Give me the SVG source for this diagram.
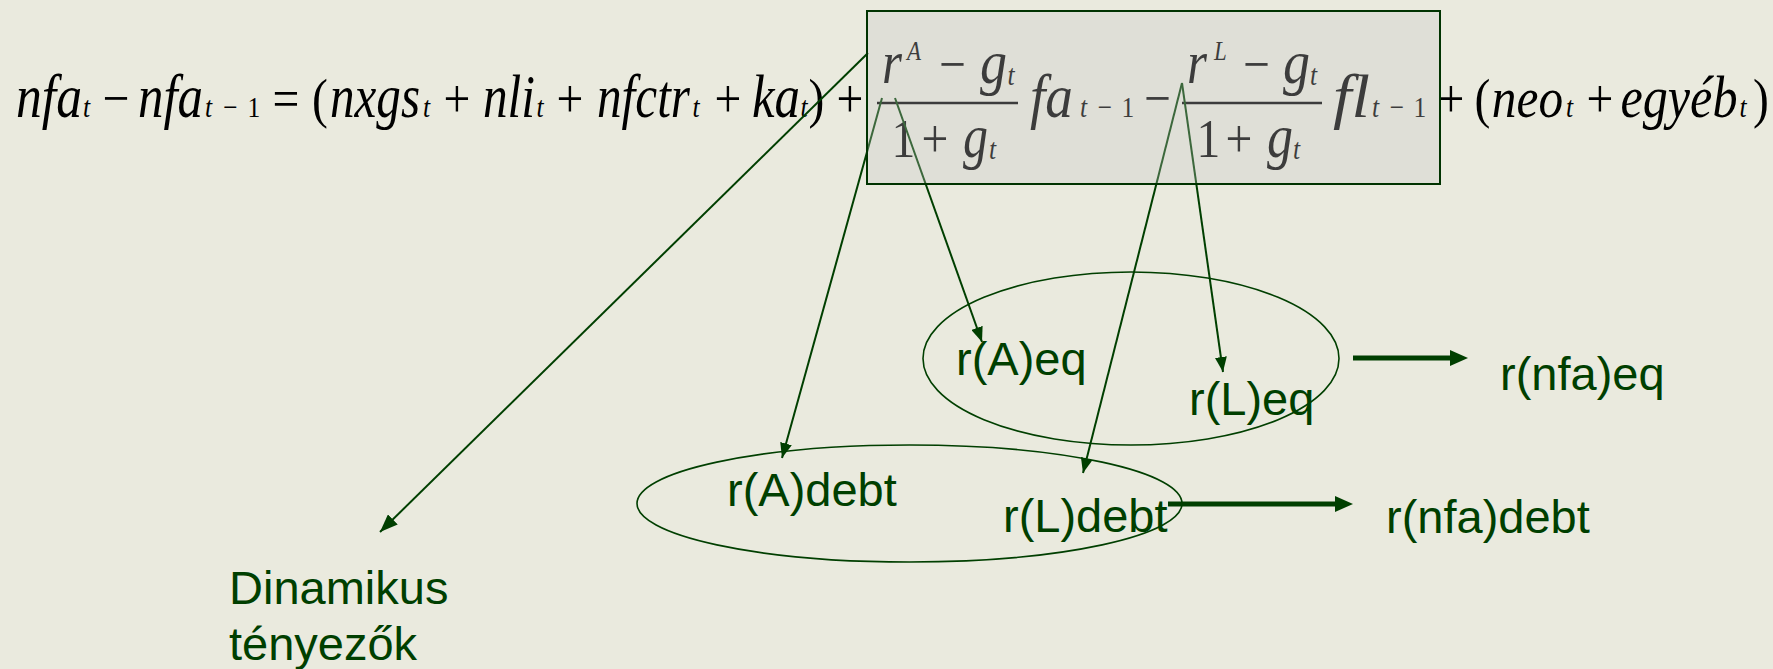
<svg xmlns="http://www.w3.org/2000/svg" width="1773" height="669" viewBox="0 0 1773 669">
<defs>
<style>
.eq{font-family:"Liberation Serif","Times New Roman",serif;font-style:italic;font-size:61px;fill:#000;text-anchor:middle}
.op{font-style:normal;font-size:56px}
.sub{font-size:30px}
.sup{font-size:27px}
.lbl{font-family:"Liberation Sans",Arial,sans-serif;font-size:47px;fill:#003f00}
.ln{stroke:#003f00;stroke-width:2;fill:none}
.thick{stroke:#003f00;stroke-width:5;fill:none}
.ell{stroke:#003f00;stroke-width:1.6;fill:none}
.bar{stroke:#000;stroke-width:2.5}
</style>
<marker id="ah" markerUnits="userSpaceOnUse" markerWidth="15" markerHeight="12" refX="15" refY="6" orient="auto"><path d="M0,0 L15,6 L0,12 z" fill="#003f00"/></marker>
<marker id="ahb" markerUnits="userSpaceOnUse" markerWidth="18" markerHeight="14" refX="18" refY="7" orient="auto"><path d="M0,0 L18,7 L0,14 z" fill="#003f00"/></marker>
<marker id="aht" markerUnits="userSpaceOnUse" markerWidth="18" markerHeight="16" refX="2" refY="8" orient="auto"><path d="M0,0 L18,8 L0,16 z" fill="#003f00"/></marker>
</defs>
<rect width="1773" height="669" fill="#eaeade"/>

<g id="equation">
<g transform="matrix(0.85 0 0 1 0 0)">
<text class="eq" y="117"><tspan x="57.65" textLength="77.6" lengthAdjust="spacingAndGlyphs">nfa</tspan><tspan x="101.76" class="sub">t</tspan><tspan x="136.47" class="op">−</tspan><tspan x="200.59" textLength="76.5" lengthAdjust="spacingAndGlyphs">nfa</tspan><tspan x="245.29" class="sub">t</tspan><tspan x="271.18" class="sub op">−</tspan><tspan x="298.82" class="sub op">1</tspan><tspan x="336.47" class="op">=</tspan><tspan x="376.47" class="op">(</tspan><tspan x="441.18" textLength="105.9" lengthAdjust="spacingAndGlyphs">nxgs</tspan><tspan x="501.76" class="sub">t</tspan><tspan x="537.65" class="op">+</tspan><tspan x="598.82" textLength="61.2" lengthAdjust="spacingAndGlyphs">nli</tspan><tspan x="635.29" class="sub">t</tspan><tspan x="670.59" class="op">+</tspan><tspan x="757.06" textLength="109.4" lengthAdjust="spacingAndGlyphs">nfctr</tspan><tspan x="818.82" class="sub">t</tspan><tspan x="856.47" class="op">+</tspan><tspan x="912.94" textLength="56.5" lengthAdjust="spacingAndGlyphs">ka</tspan><tspan x="945.88" class="sub">t</tspan><tspan x="960.59" class="op">)</tspan><tspan x="1000" class="op">+</tspan><tspan x="1237.06" textLength="50.6" lengthAdjust="spacingAndGlyphs">fa</tspan><tspan x="1274.71" class="sub">t</tspan><tspan x="1300" class="sub op">−</tspan><tspan x="1327.06" class="sub op">1</tspan><tspan x="1361.76" class="op">−</tspan><tspan x="1590" textLength="43.5" lengthAdjust="spacingAndGlyphs">fl</tspan><tspan x="1618.24" class="sub">t</tspan><tspan x="1643.53" class="sub op">−</tspan><tspan x="1670.59" class="sub op">1</tspan><tspan x="1707.06" class="op">+</tspan><tspan x="1744.12" class="op">(</tspan><tspan x="1797" style="font-size:58px">neo</tspan><tspan x="1846.5" class="sub">t</tspan><tspan x="1882.35" class="op">+</tspan><tspan x="1975.3" style="font-size:59px">egyéb</tspan><tspan x="2050.6" class="sub">t</tspan><tspan x="2071.8" class="op">)</tspan></text>
<text class="eq" y="83"><tspan x="1049.41" textLength="23.5" lengthAdjust="spacingAndGlyphs">r</tspan><tspan x="1075.29" y="60" class="sup">A</tspan><tspan x="1120.59" y="83" class="op">−</tspan><tspan x="1168.82" textLength="31.8" lengthAdjust="spacingAndGlyphs">g</tspan><tspan x="1189.41" y="85" class="sub">t</tspan><tspan x="1408.24" y="83" textLength="23.5" lengthAdjust="spacingAndGlyphs">r</tspan><tspan x="1435.88" y="60" class="sup">L</tspan><tspan x="1478.24" y="83" class="op">−</tspan><tspan x="1525.29" textLength="31.8" lengthAdjust="spacingAndGlyphs">g</tspan><tspan x="1545.29" y="85" class="sub">t</tspan></text>
<text class="eq" y="157"><tspan x="1062.94" class="op">1</tspan><tspan x="1100" class="op">+</tspan><tspan x="1147.65" textLength="29.4" lengthAdjust="spacingAndGlyphs">g</tspan><tspan x="1167.65" y="159" class="sub">t</tspan><tspan x="1421.76" y="157" class="op">1</tspan><tspan x="1457.65" class="op">+</tspan><tspan x="1505.88" textLength="30.6" lengthAdjust="spacingAndGlyphs">g</tspan><tspan x="1525.29" y="159" class="sub">t</tspan></text>
</g>
<line x1="877" y1="103" x2="1018" y2="103" class="bar"/>
<line x1="1182" y1="103" x2="1322" y2="103" class="bar"/>
</g>

<g id="connectors">
<line x1="868" y1="53" x2="380" y2="532" class="ln" marker-end="url(#ahb)"/>
<line x1="882" y1="98" x2="782" y2="458" class="ln" marker-end="url(#ah)"/>
<line x1="895" y1="98" x2="982" y2="342" class="ln" marker-end="url(#ah)"/>
<line x1="1182" y1="83" x2="1083" y2="473" class="ln" marker-end="url(#ah)"/>
<line x1="1182" y1="83" x2="1223" y2="372" class="ln" marker-end="url(#ah)"/>
<line x1="1353" y1="358" x2="1452" y2="358" class="thick" marker-end="url(#aht)"/>
<line x1="1168" y1="504" x2="1337" y2="504" class="thick" marker-end="url(#aht)"/>
</g>

<g id="box">
<rect x="867" y="11" width="573" height="173" fill="#c8c8c8" fill-opacity="0.3" stroke="#003300" stroke-width="2"/>
</g>

<g id="ellipse-eq"><ellipse cx="1131" cy="358.5" rx="208" ry="86.5" class="ell"/></g>
<g id="ellipse-debt"><ellipse cx="909.5" cy="503.5" rx="272.5" ry="58.5" class="ell"/></g>

<g id="n-rAeq"><text x="956" y="375" class="lbl">r(A)eq</text></g>
<g id="n-rLeq"><text x="1189" y="415" class="lbl">r(L)eq</text></g>
<g id="n-rAdebt"><text x="727" y="506" class="lbl">r(A)debt</text></g>
<g id="n-rLdebt"><text x="1003" y="532" class="lbl">r(L)debt</text></g>
<g id="n-rnfaeq"><text x="1500" y="390" class="lbl">r(nfa)eq</text></g>
<g id="n-rnfadebt"><text x="1386" y="533" class="lbl">r(nfa)debt</text></g>
<g id="n-dinamikus"><text x="229" y="604" class="lbl">Dinamikus</text><text x="229" y="660" class="lbl">tényezők</text></g>
</svg>
